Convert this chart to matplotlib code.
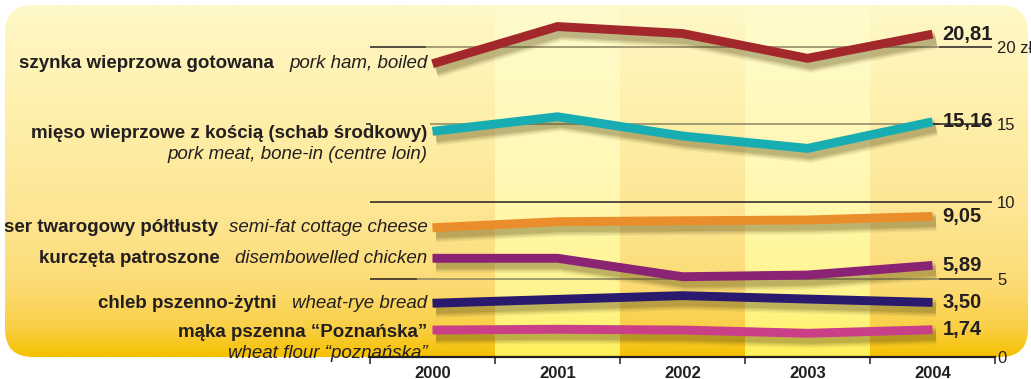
import matplotlib.pyplot as plt
import numpy as np
from matplotlib import patheffects as pe
from matplotlib.patches import FancyBboxPatch
from matplotlib.colors import LinearSegmentedColormap

plt.rcParams['font.family'] = ['Liberation Sans', 'DejaVu Sans']

# average retail prices, zł
years = [2000, 2001, 2002, 2003, 2004]
ham = [18.9, 21.3, 20.85, 19.25, 20.81]
pork = [14.54, 15.48, 14.24, 13.44, 15.16]
cheese = [8.32, 8.71, 8.77, 8.82, 9.05]
chicken = [6.35, 6.35, 5.16, 5.27, 5.89]
bread = [3.45, 3.70, 3.94, 3.72, 3.50]
flour = [1.72, 1.77, 1.72, 1.51, 1.74]

series = [ham, pork, cheese, chicken, bread, flour]
names_pl = ["szynka wieprzowa gotowana",
            "mięso wieprzowe z kością (schab środkowy)",
            "ser twarogowy półtłusty",
            "kurczęta patroszone",
            "chleb pszenno-żytni",
            "mąka pszenna \u201cPoznańska\u201d"]
names_en = ["pork ham, boiled",
            "pork meat, bone-in (centre loin)",
            "semi-fat cottage cheese",
            "disembowelled chicken",
            "wheat-rye bread",
            "wheat flour \u201cpoznańska\u201d"]
two_line = [False, True, False, False, False, True]
colors = ['#a2282b', '#17adb2', '#ea8e2b', '#8b2374', '#291a6e', '#c93f88']

yticks = [0, 5, 10, 15, 20]
yticklabels = ["0", "5", "10", "15", "20 zł"]

W, H = 1031, 379
ink = '#231f20'
fig = plt.figure(figsize=(W / 100, H / 100), dpi=100)

# rounded yellow panel with vertical gradient
bg = fig.add_axes([0, 0, 1, 1])
bg.set_xlim(0, W)
bg.set_ylim(H, 0)
bg.axis('off')
panel = FancyBboxPatch((5, 5), 1023, 352,
                       boxstyle="round,pad=0,rounding_size=28",
                       facecolor='none', edgecolor='none')
bg.add_patch(panel)
panel_cmap = LinearSegmentedColormap.from_list(
    'panel', [(0.0, '#fff8c8'), (0.3, '#fef0ab'), (0.6, '#fde592'),
              (0.8, '#fcdb74'), (0.92, '#f9cf45'), (1.0, '#f6c100')])
img = bg.imshow(np.linspace(0, 1, 256)[:, None], cmap=panel_cmap,
                extent=[5, 1028, 357, 5], aspect='auto', origin='upper')
img.set_clip_path(panel)

# main plotting area
ax = fig.add_axes([370 / W, (H - 356.7) / H, 625 / W, 22.5 * 15.5 / H])
ax.patch.set_alpha(0)
for s in ['top', 'left', 'right']:
    ax.spines[s].set_visible(False)
ax.spines['bottom'].set_linewidth(1.6)
ax.spines['bottom'].set_color(ink)

# lighter bands behind 2001 and 2003
band_cmap = LinearSegmentedColormap.from_list(
    'band', [(0.0, '#fffbcc'), (0.5, '#fff8b4'), (0.85, '#fff48c'),
             (1.0, '#fff05a')])
for yr in [2001, 2003]:
    ax.imshow(np.linspace(0, 1, 256)[:, None], cmap=band_cmap,
              extent=[yr - 0.5, yr + 0.5, 0, 22.5], aspect='auto',
              origin='upper', zorder=0)
ax.set_xlim(1999.5, 2004.5)
ax.set_ylim(0, 22.5)

# grid lines: dark outside the series, muted inside
grey = '#8a8462'
ax.hlines(10, 1999.5, 2004.48, color=ink, lw=1.1, zorder=1, clip_on=False)
ax.hlines([5, 20], 1999.5, [1999.88, 1999.95], color=ink, lw=1.1, zorder=1)
ax.hlines([5, 15, 20], [1999.88, 1999.98, 1999.95], 2004.05,
          color=grey, lw=1.1, zorder=1)
ax.hlines([5, 15, 20], [2004.05, 2003.98, 2004.05], 2004.48,
          color=ink, lw=1.1, zorder=1, clip_on=False)
ax.hlines(15, 1999.47, 1999.51, color=ink, lw=1.1, zorder=1, clip_on=False)

# axes ticks
ax.set_xticks(np.arange(1999.5, 2005, 1))
ax.set_xticklabels([])
ax.tick_params(axis='x', which='major', direction='out', length=5,
               width=1.1, color=ink)
ax.set_xticks(years, minor=True)
ax.set_xticklabels([str(y) for y in years], minor=True,
                   fontsize=12, fontweight='bold', color=ink)
ax.tick_params(axis='x', which='minor', length=0, pad=6.5)
ax.yaxis.tick_right()
ax.set_yticks(yticks)
ax.set_yticklabels(yticklabels, fontsize=12, color=ink)
ax.tick_params(axis='y', length=0, pad=1.5)

# series lines with soft drop shadow
shadow = [pe.SimpleLineShadow(offset=(2.5, -4), shadow_color='#4f4410',
                              alpha=a, linewidth=lw)
          for lw, a in [(13, 0.07), (11, 0.09), (9, 0.12), (7, 0.15)]]
for vals, c in zip(series, colors):
    ax.plot(years, vals, color=c, lw=6.4, solid_capstyle='butt',
            solid_joinstyle='miter', zorder=3,
            path_effects=shadow + [pe.Normal()])

# end-of-line values
for vals in series:
    ax.annotate(f"{vals[-1]:.2f}".replace('.', ','), (years[-1], vals[-1]),
                xytext=(10, 0), textcoords='offset pixels', ha='left',
                va='center', fontsize=14.5, fontweight='bold', color=ink,
                annotation_clip=False, zorder=4)

# series names on the left
bold = dict(fontsize=13.5, fontweight='bold', color=ink)
ital = dict(fontsize=13.5, style='italic', color=ink)
gaps = [15, 0, 11, 16, 16, 0]
for vals, pl, en, tl, gap in zip(series, names_pl, names_en, two_line, gaps):
    if tl:
        ax.annotate(pl, (years[0], vals[0]), xytext=(-5, -2.5),
                    textcoords='offset pixels', ha='right', va='center',
                    annotation_clip=False, **bold)
        ax.annotate(en, (years[0], vals[0]), xytext=(-5, -23),
                    textcoords='offset pixels', ha='right', va='center',
                    annotation_clip=False, **ital)
    else:
        t = ax.annotate(en, (years[0], vals[0]), xytext=(-5, 0),
                        textcoords='offset pixels', ha='right', va='center',
                        annotation_clip=False, **ital)
        ax.annotate(pl, (0, 0.5), xycoords=t, xytext=(-gap, 0),
                    textcoords='offset pixels', ha='right', va='center',
                    annotation_clip=False, **bold)

fig.savefig('out.png', dpi=100)
